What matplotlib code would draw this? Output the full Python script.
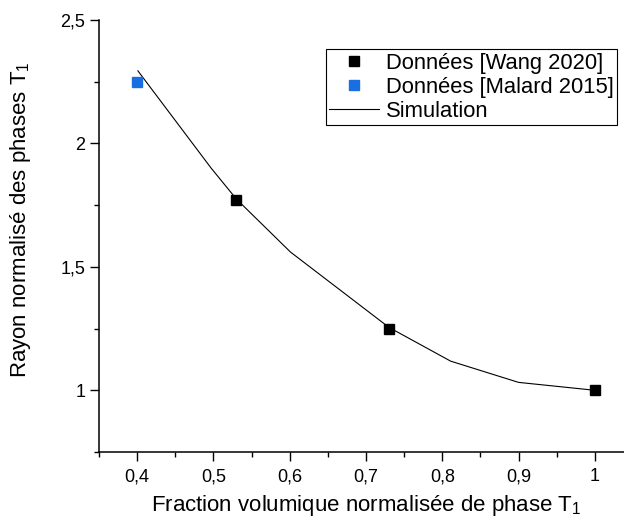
import matplotlib
matplotlib.use("Agg")
import matplotlib.pyplot as plt
from matplotlib.ticker import MultipleLocator, FuncFormatter

# Data
WANG_X = [0.53, 0.73, 1.0]
WANG_Y = [1.77, 1.25, 1.0]
MALARD_X = [0.40]
MALARD_Y = [2.25]
SIM_X = [0.401, 0.497, 0.53, 0.601, 0.73, 0.811, 0.90, 1.0]
SIM_Y = [2.294, 1.90, 1.775, 1.56, 1.255, 1.118, 1.032, 1.0]

BLUE = "#1a6fe0"

plt.rcParams.update({
    "font.family": ["Liberation Sans", "DejaVu Sans"],
    "mathtext.fontset": "custom",
    "mathtext.rm": "Liberation Sans",
    "mathtext.it": "Liberation Sans",
    "font.size": 12,
})

fig = plt.figure(figsize=(6.24, 5.17), dpi=100)
ax = fig.add_axes([99 / 624, 1 - 452 / 517, (633 - 99) / 624, (452 - 20) / 517])

ax.plot(WANG_X, WANG_Y, "s", color="black", ms=7.2, label="Données [Wang 2020]", zorder=3)
ax.plot(MALARD_X, MALARD_Y, "s", color=BLUE, ms=7.2, label="Données [Malard 2015]", zorder=3)
ax.plot(SIM_X, SIM_Y, "-", color="black", lw=0.8, label="Simulation", zorder=2)

ax.set_xlim(0.35, 1.05)
ax.set_ylim(0.75, 2.5)

fmt = FuncFormatter(lambda v, p: f"{v:g}".replace(".", ","))
ax.xaxis.set_major_locator(MultipleLocator(0.1))
ax.xaxis.set_minor_locator(MultipleLocator(0.05))
ax.yaxis.set_major_locator(MultipleLocator(0.5))
ax.yaxis.set_minor_locator(MultipleLocator(0.25))
ax.xaxis.set_major_formatter(fmt)
ax.yaxis.set_major_formatter(fmt)

ax.tick_params(which="major", direction="out", length=6.3, width=1.0, labelsize=13)
ax.tick_params(which="minor", direction="out", length=3.6, width=1.0)
ax.tick_params(axis="x", which="major", pad=5.5)
ax.tick_params(axis="y", which="major", pad=3.5)

ax.spines["top"].set_visible(False)
ax.spines["right"].set_visible(False)
for s in ("left", "bottom"):
    ax.spines[s].set_linewidth(1.1)

ax.set_xlabel(r"Fraction volumique normalisée de phase T$\mathregular{_1}$", fontsize=16)
ax.set_ylabel(r"Rayon normalisé des phases T$\mathregular{_1}$", fontsize=16)
ax.xaxis.set_label_coords(0.5, -0.094)
ax.yaxis.set_label_coords(-0.124, 0.537)

leg = ax.legend(
    loc="upper left",
    bbox_to_anchor=(325.7 / 624, 1 - 49.3 / 517),
    bbox_transform=fig.transFigure,
    fontsize=15.8,
    frameon=True,
    fancybox=False,
    edgecolor="black",
    framealpha=1,
    borderpad=0.15,
    labelspacing=0.15,
    handlelength=2.3,
    handletextpad=0.3,
    borderaxespad=0,
)
leg.get_frame().set_linewidth(0.8)

fig.savefig("out.png", dpi=100)
